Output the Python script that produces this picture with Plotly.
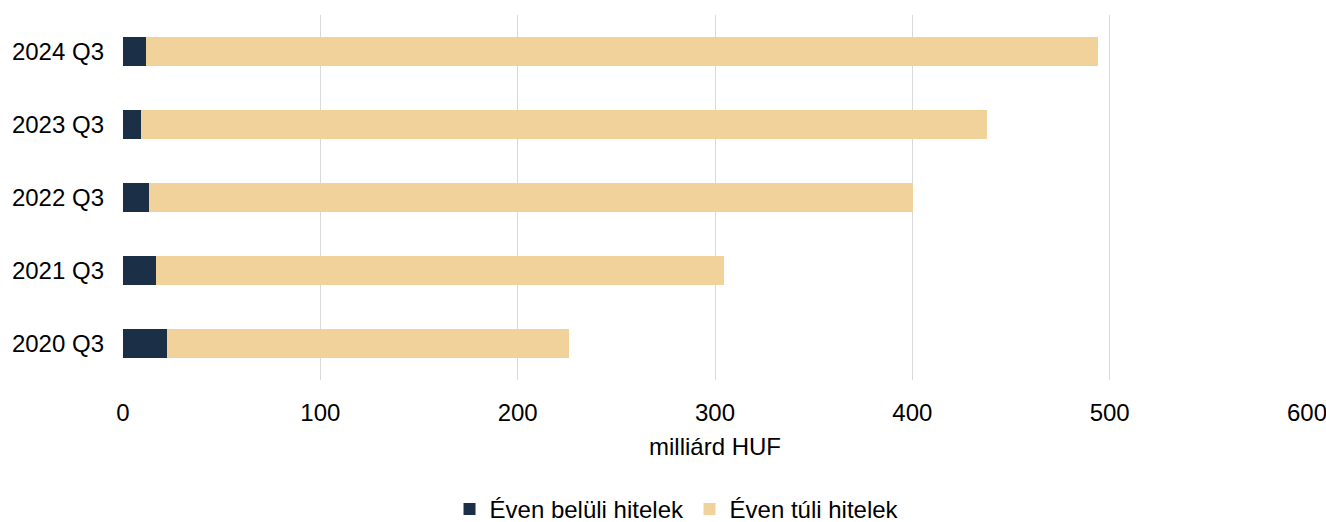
import plotly.graph_objects as go

quarters = ["2020 Q3", "2021 Q3", "2022 Q3", "2023 Q3", "2024 Q3"]
short_term = [22.1, 16.7, 13.4, 8.9, 11.4]
long_term = [203.8, 287.8, 386.8, 429.1, 482.7]

font_family = "Liberation Sans, Arial, sans-serif"

fig = go.Figure()

fig.add_trace(go.Bar(
    y=quarters,
    x=short_term,
    orientation="h",
    name="Éven belüli hitelek",
    marker=dict(color="#1b3047", line=dict(width=0))
))

fig.add_trace(go.Bar(
    y=quarters,
    x=long_term,
    orientation="h",
    name="Éven túli hitelek",
    marker=dict(color="#f2d29b", line=dict(width=0))
))

# figure is a little taller than the window so the legend sits low like the original
fig.update_layout(
    barmode="stack",
    bargap=0.59,
    width=1326,
    height=532,
    margin=dict(l=123, r=19, t=15, b=152),
    plot_bgcolor="white",
    paper_bgcolor="white",
    font=dict(family=font_family, size=24, color="#000000"),
    legend=dict(
        orientation="h",
        xref="container",
        yref="container",
        x=0.52,
        xanchor="center",
        y=0.0,
        yanchor="bottom",
        font=dict(size=24),
        traceorder="normal",
        itemwidth=30,
        entrywidth=195
    ),
    xaxis=dict(
        range=[0, 600],
        dtick=100,
        showgrid=True,
        gridcolor="#d9d9d9",
        gridwidth=1,
        zeroline=False,
        showline=False,
        automargin=False,
        ticklabeloverflow="allow",
        ticklabelstandoff=16,
        title=dict(text="milliárd HUF", font=dict(size=24), standoff=13)
    ),
    yaxis=dict(
        showgrid=False,
        zeroline=False,
        showline=False,
        automargin=False,
        ticklabelstandoff=18
    )
)

fig.write_html(
    "out.html",
    config={"displayModeBar": False},
    post_script="document.body.style.margin='0';document.body.style.overflow='hidden';"
)
